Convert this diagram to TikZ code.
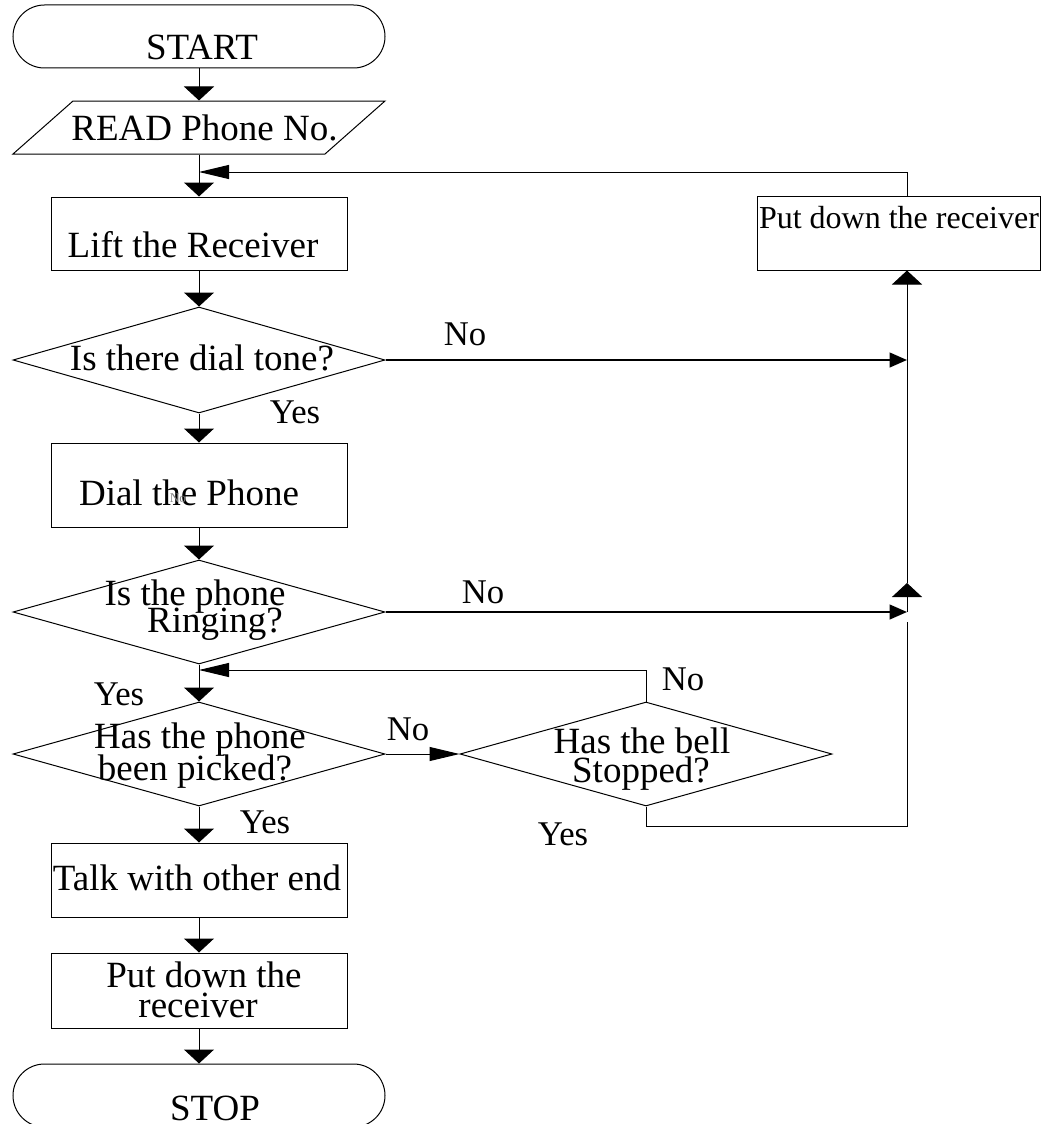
\documentclass[tikz,border=0pt]{standalone}
\usepackage{fontspec}
\setmainfont{Liberation Serif}
\usetikzlibrary{shapes.geometric,shapes.misc,arrows.meta}

\begin{document}
\begin{tikzpicture}[x=0.75pt,y=-0.75pt,
  line width=0.75pt,
  term/.style={rounded rectangle, draw, minimum width=372*0.75pt, minimum height=63*0.75pt, inner sep=0pt},
  proc/.style={rectangle, draw, minimum width=296*0.75pt, inner sep=0pt},
  dec/.style={diamond, draw, minimum width=372*0.75pt, inner sep=0pt},
  txt/.style={anchor=base, inner sep=0pt, font=\fontsize{27.75pt}{23.25pt}\selectfont},
  lbl/.style={anchor=base, inner sep=0pt, font=\fontsize{26pt}{26pt}\selectfont},
  dar/.style={-{Triangle[length=10.5pt,width=22.5pt]}},
  har/.style={-{Triangle[length=22.5pt,width=10.5pt]}},
  sar/.style={-{Triangle[length=13pt,width=11pt]}},
  heavy/.style={line width=1.5pt}
]
\useasboundingbox (0,0) rectangle (1041,1124);

% ---- main column ----
\node[term] (start) at (199,36.5) {};
\node[txt] (start-t) at (202,60) {START};

\node[inner sep=0pt, minimum width=312*0.75pt, minimum height=53*0.75pt] (read) at (199,127.5) {};
\draw (73,101) -- (385,101) -- (325,154) -- (13,154) -- cycle;
\node[txt] (read-t) at (204.5,140) {READ Phone No.};

\node[proc, minimum height=73*0.75pt] (lift) at (199,233.5) {};
\node[txt] (lift-t) at (193,257) {Lift the Receiver};

\node[dec, minimum height=106*0.75pt] (d1) at (199,360) {};
\node[txt] (d1-t) at (202,370) {Is there dial tone?};

\node[proc, minimum height=84*0.75pt] (dial) at (199,485) {};
\node[txt] (dial-t) at (189,505) {Dial the Phone};
\node[anchor=base, inner sep=0pt, font=\fontsize{10pt}{10pt}\selectfont, text=gray] (dial-n) at (178,502) {No};

\node[dec, minimum height=104*0.75pt] (d2) at (199,612) {};
\node[txt] (d2-t1) at (195,605) {Is the phone};
\node[txt] (d2-t2) at (215,632) {Ringing?};

\node[dec, minimum height=104*0.75pt] (d3) at (199,754) {};
\node[txt] (d3-t1) at (200,748) {Has the phone};
\node[txt] (d3-t2) at (195,780) {been picked?};

\node[dec, minimum height=104*0.75pt] (bell) at (646,754) {};
\node[txt] (bell-t1) at (642,753) {Has the bell};
\node[txt] (bell-t2) at (641,782) {Stopped?};

\node[proc, minimum height=74*0.75pt] (talk) at (199,880) {};
\node[txt] (talk-t) at (197,890) {Talk with other end};

\node[proc, minimum height=75*0.75pt] (put) at (199,990.5) {};
\node[txt] (put-t1) at (204,987) {Put down the};
\node[txt] (put-t2) at (198,1017) {receiver};

\node[term] (stop) at (199,1095.5) {};
\node[txt] (stop-t) at (215,1120) {STOP};

% ---- retry box on the right ----
\node[proc, minimum width=283*0.75pt, minimum height=74*0.75pt] (rbox) at (898.5,233) {};
\node[anchor=base, inner sep=0pt, font=\fontsize{24pt}{24pt}\selectfont] (rbox-t) at (899,228) {Put down the receiver};

% ---- branch labels ----
\node[lbl] (no1) at (465,345) {No};
\node[lbl] (yes1) at (295,423) {Yes};
\node[lbl] (no2) at (483,603) {No};
\node[lbl] (yes2) at (119,705) {Yes};
\node[lbl] (no3) at (408,740) {No};
\node[lbl] (yes3) at (265,833) {Yes};
\node[lbl] (no4) at (683,690) {No};
\node[lbl] (yes4) at (563,845) {Yes};

% ---- junction points ----
\coordinate (m1) at (199,172);
\coordinate (r1) at (907,172);
\coordinate (j1) at (907,360);
\coordinate (j2) at (907,612);
\coordinate (j2u) at (907,583);
\coordinate (j3) at (907,622);
\coordinate (yb) at (907,826);
\coordinate (m2) at (199,670);

% ---- connectors ----
\draw[dar] (start.south) -- (read.north);
\draw[dar] (read.south) -- (lift.north);
\draw[har] (rbox.north -| r1) -- (r1) -- (m1);
\draw[dar] (lift.south) -- (d1.north);
\draw[heavy, sar] (d1.east) -- (j1);
\draw[dar] (d1.south) -- (dial.north);
\draw[dar] (dial.south) -- (d2.north);
\draw[heavy, sar] (d2.east) -- (j2);
\draw[dar] (j2) -- (j2u);
\draw[dar] (j2u) -- (rbox.south -| j2u);
\draw[dar] (d2.south) -- (d3.north);
\draw[har] (bell.north) |- (m2);
\draw[har] (d3.east) -- (bell.west);
\draw (bell.south) |- (yb) -- (j3);
\draw[dar] (d3.south) -- (talk.north);
\draw[dar] (talk.south) -- (put.north);
\draw[dar] (put.south) -- (stop.north);
\end{tikzpicture}
\end{document}
